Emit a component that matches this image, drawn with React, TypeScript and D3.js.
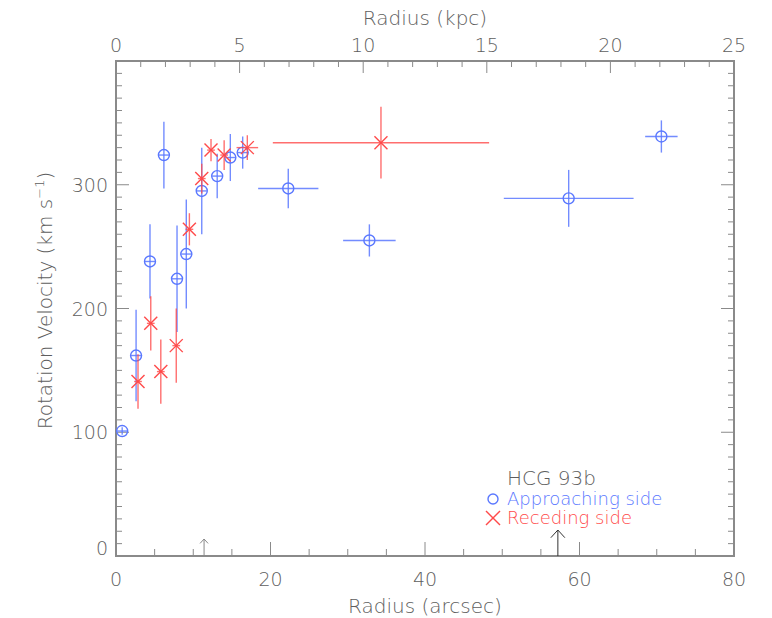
import React from "react";
import * as d3 from "d3";

const W = 772;
const H = 618;

// Approaching side: radius (arcsec), velocity, errors
const approachR = [0.8, 2.6, 4.4, 6.2, 7.9, 9.1, 11.1, 13.1, 14.8, 16.4, 22.3, 32.8, 58.6, 70.6];
const approachV = [101, 162, 238, 324, 224, 244, 295, 307, 322, 326, 297, 255, 289, 339];
const approachRErr = [0.65, 0.65, 0.65, 0.65, 0.65, 0.65, 0.65, 0.65, 0.65, 0.65, 3.9, 3.4, 8.4, 2.1];
const approachVErr = [3, 37, 30, 27, 43, 44, 35, 18, 19, 13, 16, 13, 23, 13];

// Receding side
const recedeR = [2.85, 4.5, 5.8, 7.8, 9.5, 11.1, 12.3, 14.0, 17.0, 34.3];
const recedeV = [141, 188, 149, 170, 264, 305, 328, 324, 330, 334];
const recedeRErr = [0.5, 0.5, 0.5, 0.5, 0.5, 0.5, 0.5, 0.5, 1.4, 14];
const recedeVErr = [22, 22, 26, 30, 13, 12, 9, 12, 10, 29];

const xTicks = [0, 20, 40, 60, 80];
const kpcTicks = [0, 5, 10, 15, 20, 25];
const yTicks = [0, 100, 200, 300];

const arrowR = [11.4, 57.2];
const arrowLen = [17, 26];
const arrowHead = [4, 7];
const arrowColor = ["#888888", "#333333"];

const M = { left: 116, right: 734, top: 61, bottom: 556 };

const BLUE = "#5a78ff";
const RED = "#ff4a4a";
const AX = "#8a8a8a";
const TXT = "#5e5e5e";
const FONT = "'DejaVu Sans', 'Liberation Sans', sans-serif";

export default function App() {
  const x = d3.scaleLinear().domain([0, 80]).range([M.left, M.right]);
  const xk = d3.scaleLinear().domain([0, 25]).range([M.left, M.right]);
  const y = d3.scaleLinear().domain([0, 400]).range([M.bottom, M.top]);

  const xMinor = d3.range(0, 80.01, 5);
  const kMinor = d3.range(0, 25.01, 1);
  const yMinor = d3.range(0, 400.01, 10);

  const approach = approachR.map((r, i) => ({
    r,
    v: approachV[i],
    re: approachRErr[i],
    ve: approachVErr[i],
  }));
  const recede = recedeR.map((r, i) => ({
    r,
    v: recedeV[i],
    re: recedeRErr[i],
    ve: recedeVErr[i],
  }));

  const textStyle: React.CSSProperties = { fontFamily: FONT, fontWeight: 200 };

  return (
    <div style={{ position: "fixed", left: 0, top: 0, width: W, height: H, background: "#fff" }}>
      <svg width={W} height={H} viewBox={`0 0 ${W} ${H}`} style={{ display: "block" }}>
        <rect x={0} y={0} width={W} height={H} fill="#fff" />

        {xMinor.map((t) => {
          const major = t % 20 === 0;
          const len = major ? 14 : 7;
          return (
            <line key={"xb" + t} x1={x(t)} x2={x(t)} y1={M.bottom} y2={M.bottom - len} stroke={AX} strokeWidth={1} />
          );
        })}
        {kMinor.map((t) => {
          const major = t % 5 === 0;
          const len = major ? 12 : 6;
          return (
            <line key={"xt" + t} x1={xk(t)} x2={xk(t)} y1={M.top} y2={M.top + len} stroke={AX} strokeWidth={1} />
          );
        })}
        {yMinor.map((t) => {
          const major = t % 100 === 0;
          const len = major ? 13 : 6;
          return (
            <g key={"y" + t}>
              <line x1={M.left} x2={M.left + len} y1={y(t)} y2={y(t)} stroke={AX} strokeWidth={1} />
              <line x1={M.right} x2={M.right - len} y1={y(t)} y2={y(t)} stroke={AX} strokeWidth={1} />
            </g>
          );
        })}

        <rect
          x={M.left}
          y={M.top}
          width={M.right - M.left}
          height={M.bottom - M.top}
          fill="none"
          stroke={AX}
          strokeWidth={2}
        />

        {xTicks.map((t) => (
          <text key={"xl" + t} x={x(t)} y={586} textAnchor="middle" fontSize={19} fill={TXT} style={textStyle}>
            {t}
          </text>
        ))}
        {kpcTicks.map((t) => (
          <text key={"kl" + t} x={xk(t)} y={52} textAnchor="middle" fontSize={19} fill={TXT} style={textStyle}>
            {t}
          </text>
        ))}
        {yTicks.map((t) => (
          <text
            key={"yl" + t}
            x={M.left - 8}
            y={y(t) + (t === 0 ? -1 : 7)}
            textAnchor="end"
            fontSize={19}
            fill={TXT}
            style={textStyle}
          >
            {t}
          </text>
        ))}

        <text x={425} y={613} textAnchor="middle" fontSize={20} fill={TXT} style={textStyle}>
          Radius (arcsec)
        </text>
        <text x={425} y={25} textAnchor="middle" fontSize={20} fill={TXT} style={textStyle}>
          Radius (kpc)
        </text>
        <text
          transform={`translate(52, ${(M.top + M.bottom) / 2 - 8}) rotate(-90)`}
          textAnchor="middle"
          fontSize={20}
          fill={TXT}
          style={textStyle}
        >
          Rotation Velocity (km s
          <tspan dy={-8} fontSize={13}>
            −1
          </tspan>
          <tspan dy={8}>)</tspan>
        </text>

        {arrowR.map((r, i) => {
          const ax = x(r);
          const top = M.bottom - arrowLen[i];
          const h = arrowHead[i];
          return (
            <g key={"ar" + i} stroke={arrowColor[i]} strokeWidth={1} fill="none">
              <line x1={ax} x2={ax} y1={M.bottom} y2={top} />
              <polyline points={`${ax - h},${top + h * 1.1} ${ax},${top} ${ax + h},${top + h * 1.1}`} />
            </g>
          );
        })}

        {approach.map((d, i) => (
          <g key={"a" + i} stroke={BLUE} strokeWidth={1.4} fill="none">
            <line x1={x(d.r)} x2={x(d.r)} y1={y(d.v - d.ve)} y2={y(d.v + d.ve)} strokeOpacity={0.85} />
            <line x1={x(d.r - d.re)} x2={x(d.r + d.re)} y1={y(d.v)} y2={y(d.v)} strokeOpacity={0.85} />
            <circle cx={x(d.r)} cy={y(d.v)} r={5.5} />
          </g>
        ))}

        {recede.map((d, i) => {
          const cx = x(d.r);
          const cy = y(d.v);
          const s = 6.5;
          return (
            <g key={"r" + i} stroke={RED} strokeWidth={1.4} fill="none">
              <line x1={cx} x2={cx} y1={y(d.v - d.ve)} y2={y(d.v + d.ve)} strokeOpacity={0.8} />
              <line x1={x(d.r - d.re)} x2={x(d.r + d.re)} y1={cy} y2={cy} strokeOpacity={0.8} />
              <line x1={cx - s} x2={cx + s} y1={cy - s} y2={cy + s} />
              <line x1={cx - s} x2={cx + s} y1={cy + s} y2={cy - s} />
            </g>
          );
        })}

        <text x={507} y={485} fontSize={20} fill={TXT} style={textStyle}>
          HCG 93b
        </text>
        <circle cx={493} cy={499} r={5} fill="none" stroke={BLUE} strokeWidth={1.4} />
        <text x={507} y={505} fontSize={18} fill={BLUE} style={textStyle}>
          Approaching side
        </text>
        <g stroke={RED} strokeWidth={1.4}>
          <line x1={486} x2={500} y1={511} y2={525} />
          <line x1={486} x2={500} y1={525} y2={511} />
        </g>
        <text x={507} y={524} fontSize={18} fill={RED} style={textStyle}>
          Receding side
        </text>
      </svg>
    </div>
  );
}
